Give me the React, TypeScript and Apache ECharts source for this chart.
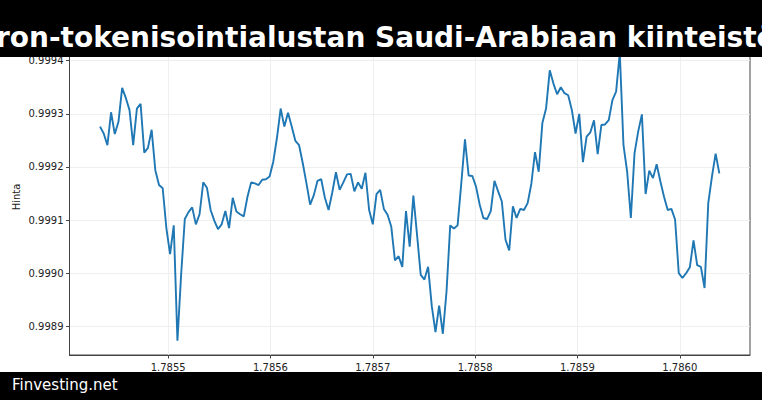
import React, { useEffect, useRef } from "react";
import * as echarts from "echarts";

const titleText = "ron-tokenisointialustan Saudi-Arabiaan kiinteistö";
const footerText = "Finvesting.net";
const yAxisName = "Hinta";
const xTicks = [1.7855, 1.7856, 1.7857, 1.7858, 1.7859, 1.786];
const yTicks = [0.9989, 0.999, 0.9991, 0.9992, 0.9993, 0.9994];
const xStart = 1.78543343;
const xStep = 0.0000036023;
const prices = [
  0.999276, 0.999263, 0.999241, 0.999303, 0.999262, 0.999285, 0.999349, 0.99933, 0.999307, 0.999241,
  0.99931, 0.999319, 0.999227, 0.999236, 0.99927, 0.999194, 0.999166, 0.99916, 0.999085, 0.999036,
  0.99909, 0.998873, 0.998997, 0.999102, 0.999115, 0.999124, 0.999092, 0.999111, 0.999171, 0.999161,
  0.999119, 0.999099, 0.999083, 0.999092, 0.999117, 0.999085, 0.999142, 0.999116, 0.999111, 0.999107,
  0.999144, 0.999171, 0.999169, 0.999166, 0.999176, 0.999177, 0.999182, 0.99921, 0.999255, 0.99931,
  0.999276, 0.999302, 0.999276, 0.999249, 0.999241, 0.999207, 0.999169, 0.999129, 0.999147, 0.999174,
  0.999177, 0.999142, 0.999119, 0.999152, 0.99919, 0.999157, 0.999171, 0.999186, 0.999187, 0.999154,
  0.999171, 0.999159, 0.999189, 0.999119, 0.999092, 0.999149, 0.999157, 0.999121, 0.99911, 0.999088,
  0.999024, 0.999032, 0.999012, 0.999117, 0.99905, 0.999146, 0.999072, 0.998997, 0.998988, 0.999012,
  0.998938, 0.998889, 0.998939, 0.998886, 0.998966, 0.99909, 0.999084, 0.99909, 0.999169, 0.999252,
  0.999184, 0.999183, 0.999163, 0.999129, 0.999104, 0.999102, 0.999117, 0.999174, 0.999154, 0.999135,
  0.999063, 0.999043, 0.999126, 0.999104, 0.999121, 0.999119, 0.999132, 0.999168, 0.999228, 0.999191,
  0.999283, 0.99931, 0.999382, 0.999357, 0.999337, 0.99935, 0.999339, 0.999335, 0.999307, 0.999263,
  0.9993, 0.999209, 0.999257, 0.999265, 0.999288, 0.999224, 0.999279, 0.99928, 0.999288, 0.999326,
  0.999342, 0.999415, 0.999241, 0.999191, 0.999104, 0.999226, 0.999267, 0.999299, 0.999149, 0.999193,
  0.999179, 0.999205, 0.999173, 0.999144, 0.999119, 0.999121, 0.999101, 0.999, 0.998991, 0.999,
  0.999011, 0.999062, 0.999015, 0.999012, 0.998972, 0.999132, 0.999182, 0.999225, 0.999188,
];

export default function App() {
  const ref = useRef<HTMLDivElement>(null);
  useEffect(() => {
    const chart = echarts.init(ref.current!, null, { renderer: "svg", width: 762, height: 400 });
    const data = prices.map((p, i) => [xStart + i * xStep, p]);
    const axisColor = "#444";
    const font = "DejaVu Sans";
    chart.setOption({
      animation: false,
      backgroundColor: "#ffffff",
      grid: {
        left: 69.5,
        right: 12,
        top: 39.5,
        bottom: 45,
        show: true,
        borderColor: axisColor,
        borderWidth: 1,
        containLabel: false,
      },
      xAxis: {
        type: "value",
        min: 1.7854036,
        max: 1.7860686,
        axisLine: { show: true, lineStyle: { color: axisColor, width: 1 } },
        axisTick: {
          show: true,
          inside: false,
          length: 3.5,
          customValues: xTicks,
          lineStyle: { color: axisColor, width: 1 },
        },
        axisLabel: {
          customValues: xTicks,
          formatter: (v: number) => v.toFixed(4),
          color: "#222",
          fontFamily: font,
          fontSize: 10,
          margin: 7,
        },
        splitLine: { show: true, lineStyle: { color: "#ebebeb", width: 0.8 } },
      },
      yAxis: {
        type: "value",
        min: 0.998846,
        max: 0.99944,
        axisLine: { show: true, lineStyle: { color: axisColor, width: 1 } },
        axisTick: {
          show: true,
          inside: false,
          length: 3.5,
          customValues: yTicks,
          lineStyle: { color: axisColor, width: 1 },
        },
        axisLabel: {
          customValues: yTicks,
          formatter: (v: number) => v.toFixed(4),
          color: "#222",
          fontFamily: font,
          fontSize: 10,
          margin: 6,
        },
        splitLine: { show: true, lineStyle: { color: "#ebebeb", width: 0.8 } },
      },
      series: [
        {
          type: "line",
          data,
          showSymbol: false,
          symbol: "none",
          lineStyle: { color: "#1f77b4", width: 1.9 },
          z: 3,
        },
      ],
      graphic: [
        {
          type: "text",
          x: 16,
          y: 197,
          rotation: Math.PI / 2,
          style: {
            text: yAxisName,
            fill: "#222",
            font: `10px "${font}"`,
            textAlign: "center",
            textVerticalAlign: "middle",
          },
          z: 50,
        },
        {
          type: "rect",
          shape: { x: 0, y: 0, width: 762, height: 57 },
          style: { fill: "#000" },
          z: 100,
        },
        {
          type: "text",
          x: -4,
          y: 37,
          style: {
            text: titleText,
            fill: "#fff",
            font: `bold 28px "${font}"`,
            textAlign: "left",
            textVerticalAlign: "middle",
          },
          z: 101,
        },
        {
          type: "rect",
          shape: { x: 0, y: 372, width: 762, height: 28 },
          style: { fill: "#000" },
          z: 100,
        },
        {
          type: "text",
          x: 12,
          y: 385,
          style: {
            text: footerText,
            fill: "#fff",
            font: `15px "${font}"`,
            textAlign: "left",
            textVerticalAlign: "middle",
          },
          z: 101,
        },
      ],
    });
    return () => chart.dispose();
  }, []);
  return (
    <div
      ref={ref}
      style={{ position: "absolute", left: 0, top: 0, width: 762, height: 400 }}
    />
  );
}
